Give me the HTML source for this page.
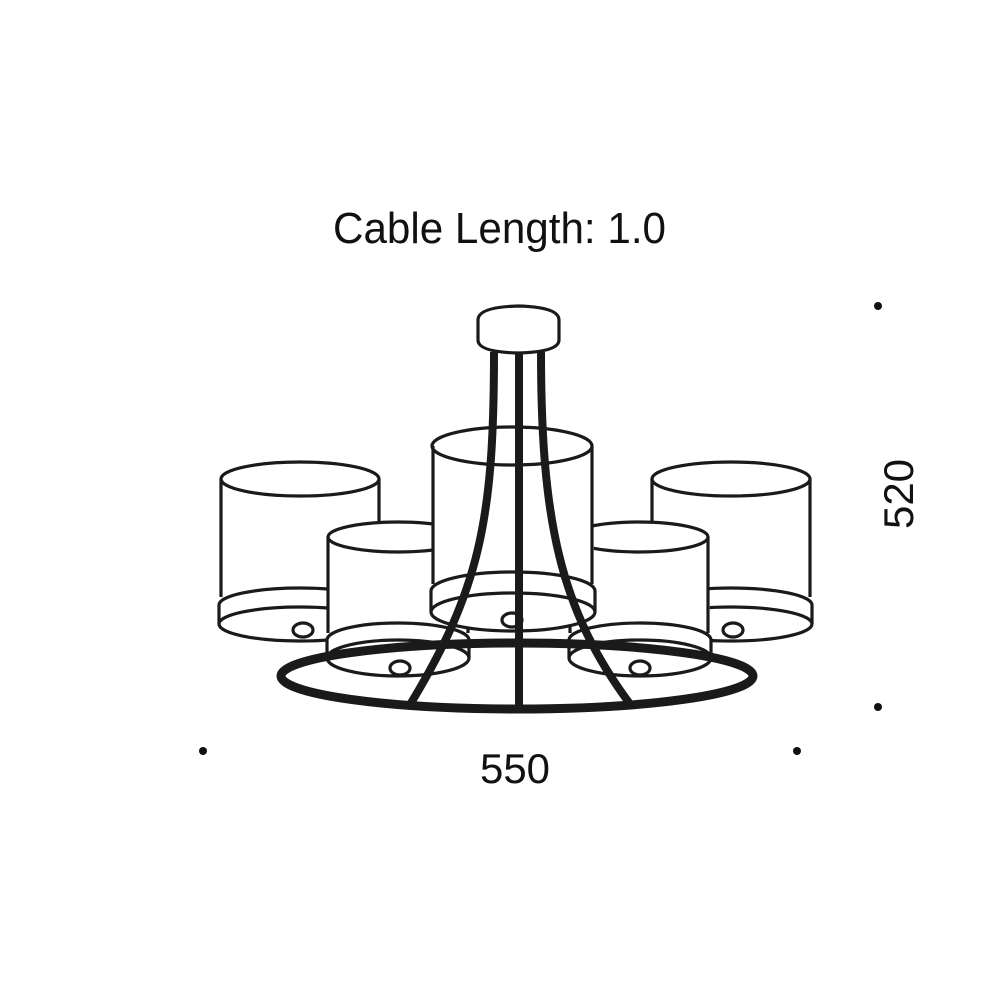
<!DOCTYPE html>
<html><head><meta charset="utf-8"><style>html,body{margin:0;padding:0;background:#fff}</style></head>
<body>
<svg width="1000" height="1000" viewBox="0 0 1000 1000" xmlns="http://www.w3.org/2000/svg">
<rect width="1000" height="1000" fill="#fff"/>
<g font-family="Liberation Sans, Arial, sans-serif" fill="#111">
<text x="333" y="243" font-size="44" textLength="333" lengthAdjust="spacingAndGlyphs">Cable Length: 1.0</text>
<text x="515" y="783" font-size="42" text-anchor="middle" textLength="70" lengthAdjust="spacingAndGlyphs">550</text>
<text transform="translate(913,494) rotate(-90)" font-size="42" text-anchor="middle" textLength="70" lengthAdjust="spacingAndGlyphs">520</text>
</g>
<g fill="#111">
<circle cx="878" cy="306" r="4"/><circle cx="878" cy="707" r="4"/>
<circle cx="203" cy="751" r="4"/><circle cx="797" cy="751" r="4"/>
</g>
<defs>
</defs>
<g stroke="#1a1a1a" stroke-width="3.2" fill="#fff">
<!-- left big -->
<g>
<path d="M221,479 L221,624 A81,17 0 0 0 381,624 L379,479 Z" stroke="none"/>
<ellipse cx="300" cy="479" rx="79" ry="17"/>
<ellipse cx="300" cy="624" rx="81" ry="17" fill="none"/>
<path d="M221,479 V597 M379,479 V597 M219,605 V624 M381,605 V624 M219,605 A81,17 0 0 1 381,605" fill="none"/>
<ellipse cx="303" cy="630" rx="10" ry="7" fill="none"/>
</g>
<!-- right big -->
<g>
<path d="M652,479 L650,624 A81,17 0 0 0 812,624 L810,479 Z" stroke="none"/>
<ellipse cx="731" cy="479" rx="79" ry="17"/>
<ellipse cx="731" cy="624" rx="81" ry="17" fill="none"/>
<path d="M652,479 V597 M810,479 V597 M650,605 V624 M812,605 V624 M650,605 A81,17 0 0 1 812,605" fill="none"/>
<ellipse cx="733" cy="630" rx="10" ry="7" fill="none"/>
</g>
<!-- small left -->
<g>
<path d="M328,537 L327,658 A71,18 0 0 0 469,658 L468,537 Z" stroke="none"/>
<ellipse cx="398" cy="537" rx="70" ry="15"/>
<ellipse cx="398" cy="658" rx="71" ry="18" fill="none"/>
<path d="M328,537 V633 M468,537 V633 M327,640 V658 M469,640 V658 M327,640 A71,17 0 0 1 469,640" fill="none"/>
<ellipse cx="400" cy="668" rx="10" ry="7" fill="none"/>
</g>
<!-- small right -->
<g>
<path d="M570,537 L569,658 A71,18 0 0 0 711,658 L708,537 Z" stroke="none"/>
<ellipse cx="639" cy="537" rx="69" ry="15"/>
<ellipse cx="640" cy="658" rx="71" ry="18" fill="none"/>
<path d="M570,537 V633 M708,537 V633 M569,640 V658 M711,640 V658 M569,640 A71,17 0 0 1 711,640" fill="none"/>
<ellipse cx="640" cy="668" rx="10" ry="7" fill="none"/>
</g>
<!-- center -->
<g>
<path d="M433,446 L431,612 A82,19 0 0 0 595,612 L592,446 Z" stroke="none"/>
<ellipse cx="512" cy="446" rx="80" ry="19"/>
<ellipse cx="513" cy="612" rx="82" ry="19" fill="none"/>
<path d="M433,446 V584 M592,446 V584 M431,591 V612 M595,591 V612 M431,591 A82,19 0 0 1 595,591" fill="none"/>
<ellipse cx="512" cy="620" rx="10" ry="7" fill="none"/>
</g>
<!-- canopy -->
<path d="M478,320 Q478,307 518,306 Q559,307 559,320 L559,340 Q559,352 518,353 Q478,352 478,340 Z"/>
</g>
<g stroke="#1a1a1a" fill="none" stroke-linecap="butt">
<ellipse cx="517" cy="676" rx="236" ry="33" stroke-width="9"/>
<path d="M494,352 C494,520 480,590 408,708" stroke-width="8"/>
<path d="M541,352 C541,520 560,610 630,704" stroke-width="8"/>
<path d="M519,352 V705" stroke-width="8"/>
</g>
</svg>
</body></html>
